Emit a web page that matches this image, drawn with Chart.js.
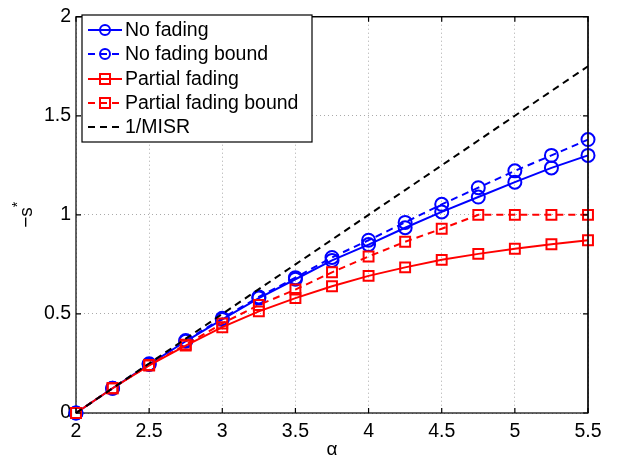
<!DOCTYPE html>
<html><head><meta charset="utf-8">
<script src="https://cdn.jsdelivr.net/npm/chart.js@4"></script>
<style>html,body{margin:0;padding:0;background:#fff}#wrap{width:619px;height:462px}</style>
</head><body><div id="wrap"><canvas id="c" width="619" height="462"></canvas></div>
<script>
const alpha = [2, 2.25, 2.5, 2.75, 3, 3.25, 3.5, 3.75, 4, 4.25, 4.5, 4.75, 5, 5.25, 5.5];
const noFading = [0, 0.125, 0.245, 0.362, 0.472, 0.58, 0.675, 0.77, 0.85, 0.935, 1.015, 1.09, 1.165, 1.237, 1.30];
const noFadingBound = [0, 0.125, 0.248, 0.366, 0.478, 0.586, 0.683, 0.785, 0.872, 0.962, 1.053, 1.137, 1.222, 1.30, 1.38];
const partialFading = [0, 0.125, 0.24, 0.34, 0.433, 0.513, 0.58, 0.64, 0.692, 0.735, 0.773, 0.803, 0.829, 0.852, 0.872];
const partialFadingBound = [0, 0.125, 0.242, 0.345, 0.452, 0.545, 0.623, 0.71, 0.79, 0.864, 0.93, 1.0, 1.0, 1.0, 1.0];
const invMISR = [0, 0.125, 0.25, 0.375, 0.5, 0.625, 0.75, 0.875, 1.0, 1.125, 1.25, 1.375, 1.5, 1.625, 1.75];
const xTicks = [2, 2.5, 3, 3.5, 4, 4.5, 5, 5.5];
const yTicks = [0, 0.5, 1, 1.5, 2];
const seriesLabels = ['No fading', 'No fading bound', 'Partial fading', 'Partial fading bound', '1/MISR'];

const FONT = '"Liberation Sans", Arial, Helvetica, sans-serif';
const pts = arr => alpha.map((a, i) => ({x: a, y: arr[i]}));

const datasets = [
  {label: seriesLabels[0], data: pts(noFading), borderColor: '#0000ff', borderWidth: 2, pointStyle: 'circle', pointRadius: 6.5, pointBorderWidth: 2, pointBackgroundColor: 'rgba(0,0,0,0)', pointBorderColor: '#0000ff', borderDash: []},
  {label: seriesLabels[1], data: pts(noFadingBound), borderColor: '#0000ff', borderWidth: 2, pointStyle: 'circle', pointRadius: 6.5, pointBorderWidth: 2, pointBackgroundColor: 'rgba(0,0,0,0)', pointBorderColor: '#0000ff', borderDash: [7, 5]},
  {label: seriesLabels[2], data: pts(partialFading), borderColor: '#ff0000', borderWidth: 2, pointStyle: 'rect', pointRadius: 7, pointBorderWidth: 2, pointBackgroundColor: 'rgba(0,0,0,0)', pointBorderColor: '#ff0000', borderDash: []},
  {label: seriesLabels[3], data: pts(partialFadingBound), borderColor: '#ff0000', borderWidth: 2, pointStyle: 'rect', pointRadius: 7, pointBorderWidth: 2, pointBackgroundColor: 'rgba(0,0,0,0)', pointBorderColor: '#ff0000', borderDash: [7, 5]},
  {label: seriesLabels[4], data: pts(invMISR), borderColor: '#000000', borderWidth: 2, pointRadius: 0, borderDash: [7, 5]}
];
datasets.forEach((d, i) => { d.order = datasets.length - i; d.tension = 0; d.fill = false; d.clip = false; });

const framePlugin = {
  id: 'frame',
  beforeDatasetsDraw(chart) {
    const ctx = chart.ctx, a = chart.chartArea;
    ctx.save();
    ctx.strokeStyle = '#000'; ctx.lineWidth = 1.2; ctx.setLineDash([]);
    ctx.strokeRect(a.left, a.top, a.right - a.left, a.bottom - a.top);
    ctx.restore();
  },
  afterDraw(chart) {
    const ctx = chart.ctx, a = chart.chartArea;
    const xs = chart.scales.x, ys = chart.scales.y;
    ctx.save();
    ctx.strokeStyle = '#000'; ctx.lineWidth = 1.2; ctx.setLineDash([]);
    ctx.beginPath();
    ctx.moveTo(a.left, a.top); ctx.lineTo(a.right, a.top); ctx.lineTo(a.right, a.bottom);
    ctx.stroke();
    ctx.beginPath();
    xTicks.forEach(v => {
      const px = xs.getPixelForValue(v);
      ctx.moveTo(px, a.bottom); ctx.lineTo(px, a.bottom - 5);
      ctx.moveTo(px, a.top); ctx.lineTo(px, a.top + 5);
    });
    yTicks.forEach(v => {
      const py = ys.getPixelForValue(v);
      ctx.moveTo(a.left, py); ctx.lineTo(a.left + 5, py);
      ctx.moveTo(a.right, py); ctx.lineTo(a.right - 5, py);
    });
    ctx.stroke();

    // y title: −s*
    ctx.save();
    ctx.translate(27, (a.top + a.bottom) / 2);
    ctx.rotate(-Math.PI / 2);
    ctx.fillStyle = '#000';
    ctx.font = '19px ' + FONT;
    ctx.textBaseline = 'middle';
    const main = '\u2212s';
    const w = ctx.measureText(main).width;
    ctx.font = '14px ' + FONT;
    const sw = ctx.measureText('*').width;
    const x0 = -(w + sw) / 2;
    ctx.font = '19px ' + FONT;
    ctx.textAlign = 'left';
    ctx.fillText(main, x0, 0);
    ctx.font = '14px ' + FONT;
    ctx.fillText('*', x0 + w, -9);
    ctx.restore();

    // legend
    const lx = 82, ly = 15, lw = 230, lh = 127;
    ctx.fillStyle = '#fff';
    ctx.fillRect(lx, ly, lw, lh);
    ctx.strokeStyle = '#000'; ctx.lineWidth = 1.2;
    ctx.strokeRect(lx, ly, lw, lh);
    const rows = [30, 54, 79, 103, 127];
    chart.data.datasets.forEach((ds, i) => {
      const y = rows[i];
      ctx.strokeStyle = ds.borderColor; ctx.lineWidth = 2;
      ctx.setLineDash(ds.borderDash || []);
      ctx.beginPath(); ctx.moveTo(88, y); ctx.lineTo(122, y); ctx.stroke();
      ctx.setLineDash([]);
      if (ds.pointRadius > 0) {
        ctx.beginPath();
        if (ds.pointStyle === 'circle') ctx.arc(105, y, 5, 0, Math.PI * 2);
        else ctx.rect(100, y - 5, 10, 10);
        ctx.stroke();
      }
      ctx.fillStyle = '#000';
      ctx.font = '19.5px ' + FONT;
      ctx.textAlign = 'left'; ctx.textBaseline = 'middle';
      ctx.fillText(ds.label, 125, y + 1);
    });
    ctx.restore();
  }
};

new Chart(document.getElementById('c'), {
  type: 'line',
  data: {datasets},
  options: {
    responsive: false,
    animation: false,
    layout: {padding: {left: 0, right: 31, top: 10, bottom: 0}},
    plugins: {legend: {display: false}, tooltip: {enabled: false}},
    scales: {
      x: {
        type: 'linear', min: 2, max: 5.5,
        afterBuildTicks: s => { s.ticks = xTicks.map(v => ({value: v})); },
        afterFit: s => { s.height = 49; },
        ticks: {color: '#000', font: {family: FONT, size: 19.5}, padding: 7, maxRotation: 0,
          callback: v => String(v)},
        grid: {color: '#aaaaaa', lineWidth: 1, drawTicks: false},
        border: {display: false, dash: [1, 3]},
        title: {display: true, text: 'α', color: '#000', font: {family: FONT, size: 19}, padding: {top: 0, bottom: 1}}
      },
      y: {
        type: 'linear', min: 0, max: 2,
        afterBuildTicks: s => { s.ticks = yTicks.map(v => ({value: v})); },
        afterFit: s => { s.width = 76; },
        ticks: {color: '#000', font: {family: FONT, size: 19.5}, padding: 5, callback: v => String(v)},
        grid: {color: '#aaaaaa', lineWidth: 1, drawTicks: false},
        border: {display: false, dash: [1, 3]}
      }
    }
  },
  plugins: [framePlugin]
});
</script></body></html>
